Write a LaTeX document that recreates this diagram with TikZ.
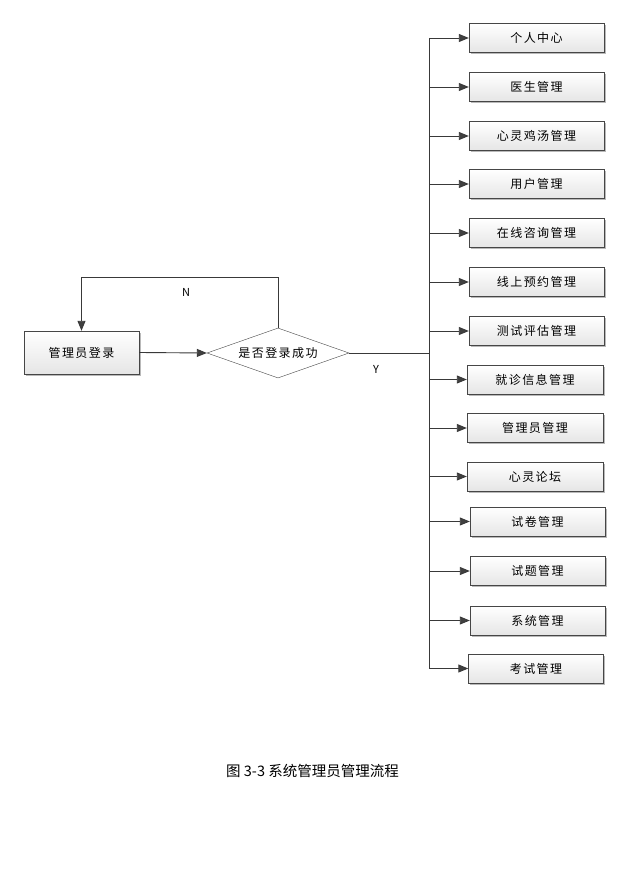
\documentclass[tikz,border=0pt]{standalone}
\usepackage{fontspec}
\setmainfont{Noto Sans CJK SC}
\newfontfamily\cjk[LetterSpace=12]{Noto Sans CJK SC}
\usepackage{tikz}
\usetikzlibrary{arrows.meta,shapes.geometric,shadows}

\tikzset{
 mbox/.style={draw=gray!55!black, top color=white, bottom color=gray!20,
   drop shadow={shadow xshift=1.6pt, shadow yshift=-1.6pt, fill=gray!55, opacity=1},
   minimum width=135pt, minimum height=29pt, inner sep=0pt,
   font=\cjk\fontsize{12}{14}\selectfont},
 arr/.style={draw=gray!45!black, line width=0.9pt, -{Triangle[length=10pt,width=8pt,fill=black!75]}},
 ln/.style={draw=gray!45!black, line width=0.9pt}
}

\begin{document}
\begin{tikzpicture}[x=1pt,y=-1pt]
 \useasboundingbox (0,0) rectangle (629,874);
 \node[mbox, minimum width=115pt, minimum height=43pt] (login) at (81.5,352.5) {管理员登录};
 \node[draw=gray!55!black, fill=white, diamond, aspect=2.84, minimum width=142pt, minimum height=50pt,
   inner sep=0pt, font=\cjk\fontsize{12}{14}\selectfont] (check) at (278,353) {是否登录成功};
 \coordinate (top) at (429,38);
 \coordinate (bot) at (429,669);
 \node[mbox] (m1) at (536.5,38) {个人中心};
 \node[mbox] (m2) at (536.5,87) {医生管理};
 \node[mbox] (m3) at (536.5,136) {心灵鸡汤管理};
 \node[mbox] (m4) at (536.5,184) {用户管理};
 \node[mbox] (m5) at (536.5,233) {在线咨询管理};
 \node[mbox] (m6) at (536.5,282) {线上预约管理};
 \node[mbox] (m7) at (536.5,331) {测试评估管理};
 \node[mbox, minimum width=136pt] (m8) at (535,379.5) {就诊信息管理};
 \node[mbox, minimum width=136pt] (m9) at (535,428) {管理员管理};
 \node[mbox, minimum width=136pt] (m10) at (535,476.5) {心灵论坛};
 \node[mbox] (m11) at (537.5,521.5) {试卷管理};
 \node[mbox] (m12) at (537.5,571) {试题管理};
 \node[mbox] (m13) at (537.5,620.5) {系统管理};
 \node[mbox] (m14) at (536,668.5) {考试管理};
 \draw[arr] (login.east) -- (check.west);
 \draw[arr] (check.north) -- ++(0,-50) -| (login.north);
 \node[font=\fontsize{11}{12}\selectfont] (n) at (186,292) {N};
 \node[font=\fontsize{11}{12}\selectfont] (y) at (376,369) {Y};
 \draw[ln] (check.east) -- (check.east -| top);
 \draw[ln] (top) -- (bot);
 \draw[arr] (top |- m1.west) -- (m1.west);
 \draw[arr] (top |- m2.west) -- (m2.west);
 \draw[arr] (top |- m3.west) -- (m3.west);
 \draw[arr] (top |- m4.west) -- (m4.west);
 \draw[arr] (top |- m5.west) -- (m5.west);
 \draw[arr] (top |- m6.west) -- (m6.west);
 \draw[arr] (top |- m7.west) -- (m7.west);
 \draw[arr] (top |- m8.west) -- (m8.west);
 \draw[arr] (top |- m9.west) -- (m9.west);
 \draw[arr] (top |- m10.west) -- (m10.west);
 \draw[arr] (top |- m11.west) -- (m11.west);
 \draw[arr] (top |- m12.west) -- (m12.west);
 \draw[arr] (top |- m13.west) -- (m13.west);
 \draw[arr] (top |- m14.west) -- (m14.west);
 \node[font=\fontsize{14.5}{16}\selectfont] (cap) at (312.5,771) {图 3-3 系统管理员管理流程};
\end{tikzpicture}
\end{document}
